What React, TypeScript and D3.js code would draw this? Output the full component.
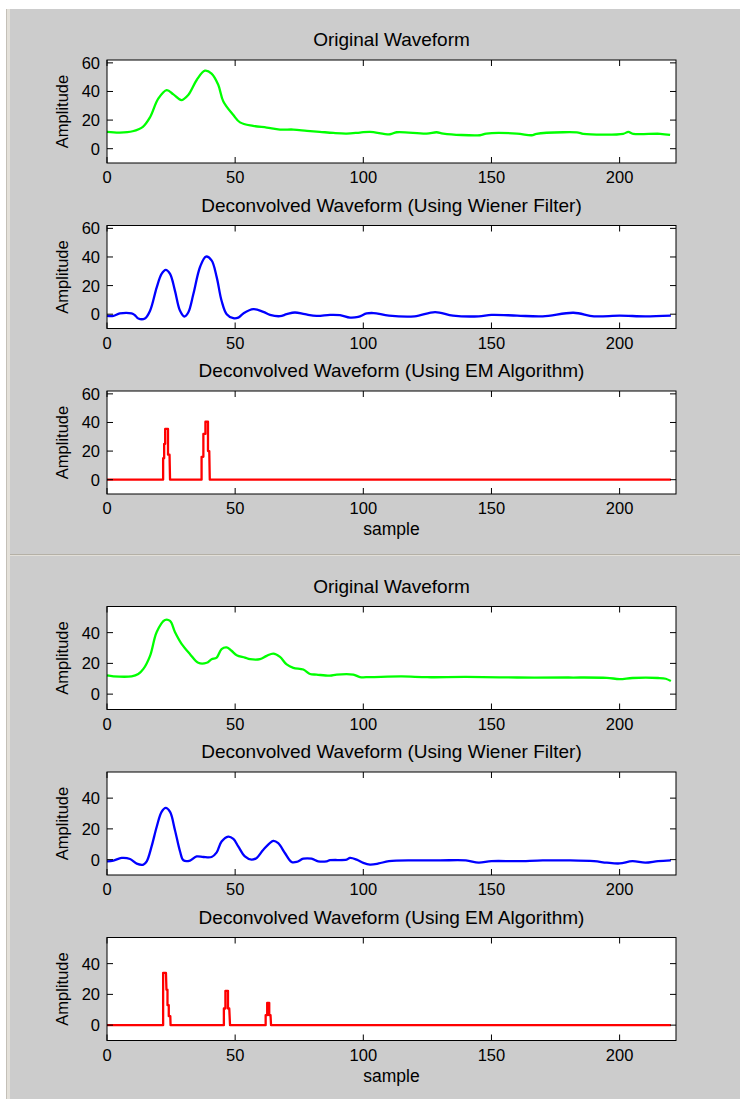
import React from 'react';
import * as d3 from 'd3';

// values (sample index -> amplitude)
const orig1X = [0, 5, 10, 14, 16.8, 20, 23.3, 25.9, 29, 31.7, 35, 38.2, 40.8, 43.4, 45.4, 49.3, 51.9, 57, 62.3, 67.5, 72.7, 78, 83, 88.3, 93.5, 98.7, 102.6, 110.4, 113, 124.7, 128.6, 131.2, 145.5, 148, 159.9, 165.7, 167.6, 178, 183.9, 185.8, 201.4, 203.4, 205.3, 215.8, 219.7];
const orig1Y = [11.8, 11.3, 12.2, 15.3, 22, 35, 41, 38, 34, 37.6, 48, 54.5, 52.5, 44.7, 33, 23.5, 18.4, 16, 14.8, 13.4, 13.4, 12.5, 11.8, 11, 10.6, 11.3, 11.8, 10.1, 11.5, 10.6, 11.5, 10.6, 9.4, 10.6, 10.6, 9.4, 10.4, 11.5, 11.3, 10.4, 10.4, 11.8, 10.4, 10.4, 9.6];

const wien1X = [0, 2.5, 5, 9.6, 10.9, 12.2, 14.8, 16.8, 19.4, 21.3, 22.9, 24.6, 26.5, 28.5, 30.2, 31.7, 33.7, 36.3, 38.6, 40.8, 42.8, 44.7, 46.7, 49.3, 51.2, 53.2, 57.1, 61, 63.6, 67.5, 70.1, 73.3, 77.2, 81.8, 87, 90.9, 94.8, 98, 101.3, 104, 110, 120, 128, 135, 145, 150, 160, 170, 182, 190, 200, 210, 220];
const wien1Y = [-1.2, -1.2, 0.5, 0.5, -0.7, -3, -3, 2.4, 18.8, 28.2, 31, 28.2, 16.5, 2.4, -1.6, 1.2, 14.1, 33, 40.3, 37.6, 25.9, 9.4, 0, -2.8, -2.4, 0.5, 3.5, 1.6, -0.5, -1.4, 0, 1.2, 0, -1.2, -0.5, -0.7, -2.4, -1.9, 0.5, 0.8, -1, -1.5, 1.5, -1, -1.5, -0.5, -1, -1.5, 1, -1.5, -1, -1.5, -1];

const em1X = [0, 21.9, 21.9, 22.3, 22.3, 22.7, 22.7, 23.8, 23.8, 24.4, 24.6, 36.9, 36.9, 37.6, 37.6, 38.4, 38.4, 39.4, 39.4, 39.9, 40.1, 220];
const em1Y = [0, 0, 15, 15, 25, 25, 35.5, 35.5, 17.5, 17.5, 0, 0, 16, 16, 32, 32, 40.5, 40.5, 20, 20, 0, 0];

const orig2X = [0, 2.5, 9.6, 12.2, 14.2, 16.8, 19.4, 22.6, 24.6, 26.5, 29.1, 32.4, 35.6, 38.9, 40.8, 42.8, 44.7, 46.7, 48.6, 50.6, 53.8, 55.8, 59.7, 62.3, 64.9, 67.5, 70.1, 72.7, 76.6, 79.2, 81.8, 87, 89.6, 96.1, 98.7, 102.6, 115, 125, 140, 160, 180, 195, 200, 205, 215, 218, 220];
const orig2Y = [12.2, 11.6, 11.6, 13.1, 16.4, 24.9, 40.4, 48.2, 47.6, 40.4, 32.7, 26, 20.4, 20.4, 22.7, 23.8, 29.3, 30.4, 28.2, 25.3, 23.8, 22.7, 22.7, 24.9, 26.4, 24.2, 19.3, 17.1, 16, 13.1, 12.7, 12, 12.7, 12.7, 11.1, 11.1, 11.5, 11, 11.2, 10.8, 10.8, 10.6, 9.8, 10.5, 10.5, 10, 8.5];

const wien2X = [0, 2.5, 5.7, 9, 11.6, 14.2, 15.5, 17.4, 19.4, 21.3, 22.9, 24.6, 26.5, 28.5, 29.8, 32.4, 35, 37.6, 40.8, 42.8, 44.7, 47.3, 49.3, 51.2, 53.8, 56.4, 58.4, 61, 64.9, 66.8, 69.4, 72, 74, 76.6, 79.8, 82.4, 85.7, 87, 93.5, 94.8, 97.4, 100, 102.6, 106, 110, 120, 130, 140, 145, 150, 160, 170, 180, 190, 195, 200, 205, 210, 215, 220];
const wien2Y = [-1.1, -0.6, 1.1, 0.4, -2.6, -3.2, -1.1, 8.6, 21.4, 31, 33.6, 31, 19.3, 5.3, -0.4, -0.6, 2.1, 1.7, 1.7, 4.7, 11.8, 15, 13.5, 8.6, 2.1, 0, 1.1, 6.4, 12.2, 10.7, 4.3, -1.5, -1.5, 0.6, 0.6, -1.1, -1.1, -0.4, 0, 1.1, 0, -2.1, -3.2, -2.5, -1, -0.5, -0.5, -0.5, -2, -1, -1, -0.5, -0.5, -1, -2, -2.5, -1, -2, -1, -0.5];

const em2X = [0, 21.9, 21.9, 23, 23.2, 23.6, 23.6, 24.1, 24.1, 24.7, 24.8, 45.6, 45.6, 46.2, 46.2, 47.2, 47.2, 47.7, 48, 61.9, 61.9, 62.5, 62.5, 63.3, 63.3, 63.8, 64, 220];
const em2Y = [0, 0, 34, 34, 23, 23, 13, 13, 5.8, 5.8, 0, 0, 10.8, 10.8, 22.3, 22.3, 10.8, 10.8, 0, 0, 6.5, 6.5, 14.5, 14.5, 6.5, 6.5, 0, 0];

const xTicks = [0, 50, 100, 150, 200];
const yTicksTop = [0, 20, 40, 60];
const yTicksBottom = [0, 20, 40];

const titles = ['Original Waveform', 'Deconvolved Waveform (Using Wiener Filter)', 'Deconvolved Waveform (Using EM Algorithm)'];

const W = 740;
const H = 1099;
const X0 = 107;
const X1 = 676;
const PH = 103;
const FONT = "'Liberation Sans', Arial, Helvetica, sans-serif";

const panels = [
  { top: 60, xs: orig1X, ys: orig1Y, color: '#00ff00', dom: [-10, 62], ticks: yTicksTop, smooth: true, title: titles[0], label: false },
  { top: 225.5, xs: wien1X, ys: wien1Y, color: '#0000ff', dom: [-10, 62], ticks: yTicksTop, smooth: true, title: titles[1], label: false },
  { top: 391, xs: em1X, ys: em1Y, color: '#ff0000', dom: [-10, 62], ticks: yTicksTop, smooth: false, title: titles[2], label: true },
  { top: 606.5, xs: orig2X, ys: orig2Y, color: '#00ff00', dom: [-10, 57], ticks: yTicksBottom, smooth: true, title: titles[0], label: false },
  { top: 772, xs: wien2X, ys: wien2Y, color: '#0000ff', dom: [-10, 57], ticks: yTicksBottom, smooth: true, title: titles[1], label: false },
  { top: 937.5, xs: em2X, ys: em2Y, color: '#ff0000', dom: [-10, 57], ticks: yTicksBottom, smooth: false, title: titles[2], label: true },
];

const x = d3.scaleLinear().domain([0, 222]).range([X0, X1]);

function Panel({ p }: { p: any }) {
  const y = d3.scaleLinear().domain(p.dom).range([p.top + PH, p.top]);
  const pts: [number, number][] = p.xs.map((v: number, i: number) => [v, p.ys[i]]);
  const line = d3.line<[number, number]>()
    .x(d => x(d[0]))
    .y(d => y(d[1]))
    .curve(p.smooth ? d3.curveCatmullRom.alpha(0.5) : d3.curveLinear);
  const bottom = p.top + PH;
  const cx = (X0 + X1) / 2;
  return (
    <g>
      <rect x={X0} y={p.top} width={X1 - X0} height={PH} fill="#fff" />
      <path d={line(pts) || ''} fill="none" stroke={p.color} strokeWidth={2.3} strokeLinejoin="round" />
      <rect x={X0} y={p.top} width={X1 - X0} height={PH} fill="none" stroke="#000" strokeWidth={1} />
      {xTicks.map(t => (
        <g key={'x' + t}>
          <line x1={x(t)} x2={x(t)} y1={bottom} y2={bottom - 6} stroke="#000" />
          <line x1={x(t)} x2={x(t)} y1={p.top} y2={p.top + 6} stroke="#000" />
          <text x={x(t)} y={bottom + 20} textAnchor="middle" fontSize={16.5} fontFamily={FONT} fill="#000">{t}</text>
        </g>
      ))}
      {p.ticks.map((t: number) => (
        <g key={'y' + t}>
          <line x1={X0} x2={X0 + 6} y1={y(t)} y2={y(t)} stroke="#000" />
          <line x1={X1} x2={X1 - 6} y1={y(t)} y2={y(t)} stroke="#000" />
          <text x={X0 - 7} y={y(t)} dy="0.36em" textAnchor="end" fontSize={16.5} fontFamily={FONT} fill="#000">{t}</text>
        </g>
      ))}
      <text transform={`translate(68,${p.top + PH / 2}) rotate(-90)`} textAnchor="middle" fontSize={16.5} fontFamily={FONT} fill="#000">Amplitude</text>
      <text x={cx} y={p.top - 14} textAnchor="middle" fontSize={19} fontFamily={FONT} fill="#000">{p.title}</text>
      {p.label && (
        <text x={cx} y={bottom + 41} textAnchor="middle" fontSize={17.5} fontFamily={FONT} fill="#000">sample</text>
      )}
    </g>
  );
}

export default function App() {
  return (
    <svg width={W} height={H} style={{ position: 'absolute', left: 0, top: 0, display: 'block' }}>
      <rect x={0} y={0} width={W} height={H} fill="#fff" />
      <rect x={6} y={9} width={1} height={H - 9} fill="#c4c0b8" />
      <rect x={7} y={9} width={3} height={H - 9} fill="#e4e1da" />
      <rect x={10} y={9} width={W - 10} height={H - 9} fill="#cccccc" />
      <rect x={10} y={554} width={W - 10} height={1} fill="#b4b0a6" />
      <rect x={10} y={555} width={W - 10} height={1} fill="#e2dfd8" />
      {panels.map((p, i) => <Panel key={i} p={p} />)}
    </svg>
  );
}
